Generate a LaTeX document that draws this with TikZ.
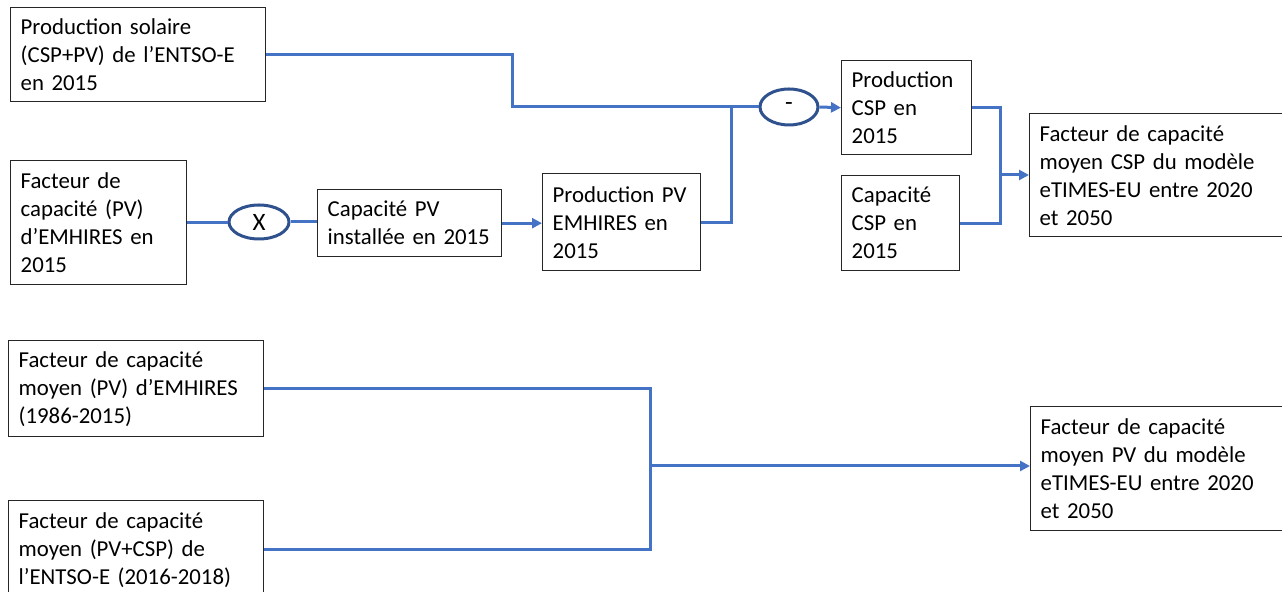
\documentclass[tikz,border=0pt]{standalone}
\usepackage{fontspec}
\setmainfont{Carlito}
\usetikzlibrary{arrows.meta,shapes.geometric}
\definecolor{lienbleu}{RGB}{68,114,196}
\definecolor{opbleu}{RGB}{47,82,143}
\tikzset{
  bloc/.style={draw=black!85, line width=0.7pt, anchor=north west, align=left,
    inner xsep=5pt, inner ysep=2pt, font=\fontsize{11.4}{14}\selectfont},
  op/.style={draw=opbleu, line width=1.5pt, fill=white, ellipse, inner sep=0pt,
    font=\fontsize{12.5}{14}\selectfont},
  lien/.style={draw=lienbleu, line width=1.5pt},
  fleche/.style={lien, -{Triangle[length=5pt,width=5pt]}}
}
\newcommand{\Bloc}[4][]{\node[bloc, text width=#3, #1] (#2) {#4};}
\newcommand{\Op}[3][]{\node[op, #1] (#2) {#3};}

\begin{document}
\begin{tikzpicture}[x=0.5pt, y=-0.5pt]
\useasboundingbox (0,0) rectangle (1282,592);

% partie CSP
\Bloc[at={(10,7)}, minimum height=47pt]{prodsol}{117.5pt}{Production solaire\\(CSP+PV) de l'ENTSO-E\\en 2015}
\Bloc[at={(10,160)}, minimum height=62pt]{fcpv}{78pt}{Facteur de\\capacité (PV)\\d'EMHIRES en\\2015}
\Op[at={(259,222)}, minimum width=30pt, minimum height=17pt]{fois}{X}
\Bloc[at={(317,189)}, minimum height=33.5pt]{cappv}{82pt}{Capacité PV\\installée en 2015}
\Bloc[at={(542,173)}, minimum height=48.5pt]{prodpv}{69pt}{Production PV\\EMHIRES en\\2015}
\Op[at={(789,107)}, minimum width=29pt, minimum height=18pt]{moins}{-}
\Bloc[at={(841,60)}, minimum height=47pt]{prodcsp}{55pt}{Production\\CSP en\\2015}
\Bloc[at={(841,175)}, minimum height=47.5pt]{capcsp}{49pt}{Capacité\\CSP en\\2015}
\Bloc[at={(1029,113)}, minimum height=61.5pt]{fccsp}{116.5pt}{Facteur de capacité\\moyen CSP du modèle\\eTIMES-EU entre 2020\\et 2050}

\coordinate (j1) at (512,107);
\coordinate (j2) at (731,107);
\coordinate (j3) at (1000,175);

\draw[lien] (prodsol.east) -| (j1) -- (moins.west);
\draw[lien] (prodpv.east) -| (j2);
\draw[fleche] (moins.east) -- (prodcsp.west);
\draw[lien] (fcpv.east) -- (fcpv.east -| fois.west);
\draw[lien] (fois.east) -- (fois.east -| cappv.west);
\draw[fleche] (cappv.east) -- (cappv.east -| prodpv.west);
\draw[lien] (prodcsp.east) -| (j3);
\draw[lien] (capcsp.east) -| (j3);
\draw[fleche] (j3) -- (j3 -| fccsp.west);

% partie PV
\Bloc[at={(8,340)}, minimum height=48pt]{fcmoy}{117.5pt}{Facteur de capacité\\moyen (PV) d'EMHIRES\\(1986-2015)}
\Bloc[at={(8,500)}, minimum height=49pt]{fcentso}{117.5pt}{Facteur de capacité\\moyen (PV+CSP) de\\l'ENTSO-E (2016-2018)}
\Bloc[at={(1030,406)}, minimum height=62pt]{fcpvmod}{116pt}{Facteur de capacité\\moyen PV du modèle\\eTIMES-EU entre 2020\\et 2050}

\coordinate (j4) at (650,466);

\draw[lien] (fcmoy.east) -| (j4);
\draw[lien] (fcentso.east) -| (j4);
\draw[fleche] (j4) -- (j4 -| fcpvmod.west);

\end{tikzpicture}
\end{document}
